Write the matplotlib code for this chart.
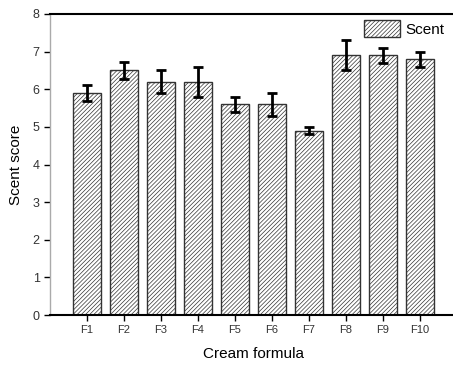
import matplotlib
matplotlib.use("Agg")
import matplotlib.pyplot as plt
import numpy as np

categories = ["F1", "F2", "F3", "F4", "F5", "F6", "F7", "F8", "F9", "F10"]
scent = [5.9, 6.5, 6.2, 6.2, 5.6, 5.6, 4.9, 6.9, 6.9, 6.8]
scent_err = [0.2, 0.22, 0.3, 0.4, 0.2, 0.3, 0.1, 0.4, 0.2, 0.2]
yticks = [0, 1, 2, 3, 4, 5, 6, 7, 8]

plt.rcParams['font.family'] = ['Liberation Sans', 'DejaVu Sans']
plt.rcParams['hatch.linewidth'] = 0.5
plt.rcParams['hatch.color'] = '#666666'

fig = plt.figure(figsize=(4.53, 3.67), dpi=100)
ax = fig.add_axes([50/453, 52/367, 407/453, 301/367])

x = np.arange(1, len(categories) + 1)
ax.bar(x, scent, width=0.78, color='white', edgecolor='#333333', linewidth=1.0,
       hatch='////////', label='Scent', zorder=2)
ax.errorbar(x, scent, yerr=scent_err, fmt='none', ecolor='black', elinewidth=2,
            capsize=3.5, capthick=2, zorder=3)

ax.set_xlim(0, 11)
ax.set_ylim(0, 8)
ax.set_xticks(x)
ax.set_xticklabels(categories, fontsize=8, color='#333333')
ax.set_yticks(yticks)
ax.set_yticklabels([str(v) for v in yticks], fontsize=9, color='#333333')
ax.tick_params(axis='both', direction='out', length=4, width=1)
ax.spines['right'].set_visible(False)
ax.spines['left'].set_color('#aaaaaa')
ax.spines['left'].set_linewidth(1.0)
ax.spines['bottom'].set_linewidth(1.5)
ax.spines['top'].set_linewidth(1.5)

ax.set_xlabel("Cream formula", fontsize=11, labelpad=8)
ax.set_ylabel("Scent score", fontsize=11, labelpad=7)

ax.legend(loc='upper right', bbox_to_anchor=(1.002, 1.025), frameon=False, fontsize=11,
          handlelength=2.4, handleheight=1.3, handletextpad=0.3)

fig.savefig("out.png", dpi=100)
